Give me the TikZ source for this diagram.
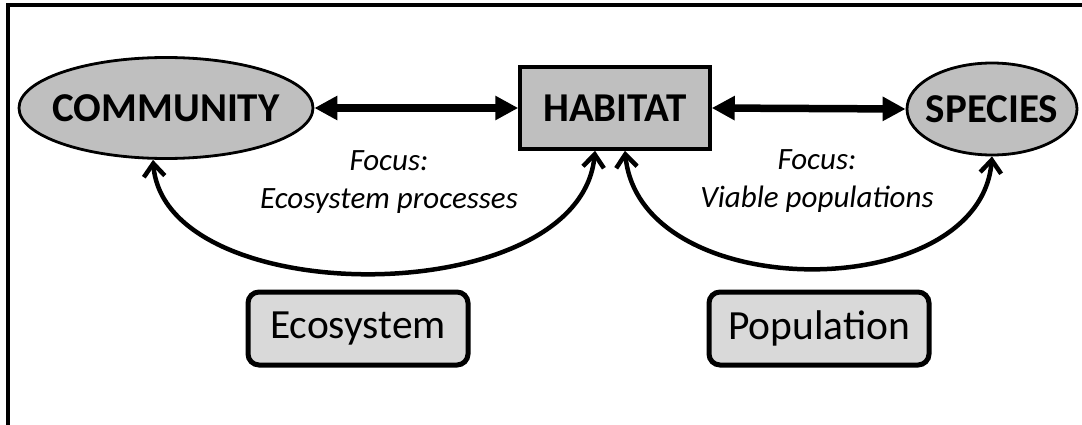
\documentclass[tikz,border=0pt]{standalone}
\usepackage{fontspec}
\setmainfont{Carlito}
\usetikzlibrary{shapes.geometric,arrows.meta}
\definecolor{darkfill}{RGB}{191,191,191}
\definecolor{lightfill}{RGB}{217,217,217}
\tikzset{
  ellnode/.style={ellipse,draw=black,line width=2.8pt,fill=darkfill,inner xsep=-40pt,inner ysep=-20pt,
    font=\fontsize{41}{46}\selectfont\bfseries},
  rectnode/.style={rectangle,draw=black,line width=3.5pt,fill=darkfill,inner sep=0pt,
    minimum width=190pt,minimum height=82pt,font=\fontsize{41}{46}\selectfont\bfseries},
  levelbox/.style={rectangle,rounded corners=11pt,draw=black,line width=5pt,fill=lightfill,
    inner sep=0pt,minimum width=220pt,minimum height=73pt,font=\fontsize{41.5}{46}\selectfont},
  focuslabel/.style={align=center,inner sep=0pt,font=\fontsize{31}{38}\selectfont\itshape},
  dblarrow/.style={line width=7.5pt,{Triangle[length=23pt,width=23pt]}-{Triangle[length=23pt,width=23pt]}},
  curvearrow/.style={line width=4.5pt,{Straight Barb[length=13pt,width=21pt]}-{Straight Barb[length=13pt,width=21pt]}},
  frameline/.style={line width=4pt}
}
\begin{document}
\begin{tikzpicture}[x=1pt,y=-1pt]
\useasboundingbox (0,0) rectangle (1082,425);
\coordinate (fbl) at (8,425);
\coordinate (ftl) at (8,5);
\coordinate (ftr) at (1082,5);
\draw[frameline] (fbl) -- (ftl) -- (ftr);

\node[ellnode,minimum width=294pt,minimum height=101pt] (comm) at (166,108) {COMMUNITY};
\node[rectnode] (hab) at (615,108) {HABITAT};
\node[ellnode,minimum width=170pt,minimum height=92pt] (spec) at (992,109) {SPECIES};

\draw[dblarrow] (comm.east) -- (hab.west);
\draw[dblarrow] (hab.east) -- (spec.west);

\draw[curvearrow] ([xshift=-13pt]comm.south) .. controls (165,312) and (580,312) .. ([xshift=-20pt]hab.south);
\draw[curvearrow] ([xshift=10pt]hab.south) .. controls (640,306) and (980,306) .. (spec.south);

\node[focuslabel] (f1) at (389,182) {Focus:\\Ecosystem processes};
\node[focuslabel] (f2) at (817,181) {Focus:\\Viable populations};

\node[levelbox] (eco) at (358,328.5) {Ecosystem};
\node[levelbox] (pop) at (819,328.5) {Population};
\end{tikzpicture}
\end{document}
